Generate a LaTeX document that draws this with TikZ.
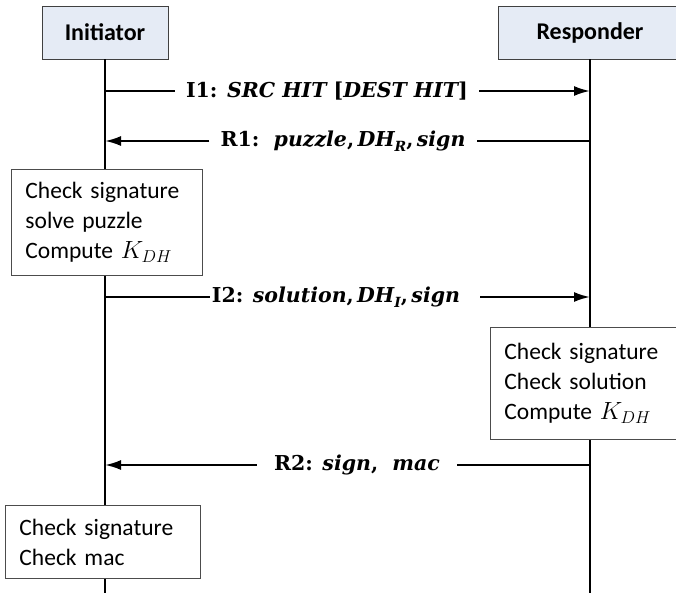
\documentclass[tikz,border=0pt]{standalone}
\usepackage{fontspec}
\setmainfont{Carlito}
\newfontfamily\labfont{DejaVu Serif}
\usetikzlibrary{arrows.meta}
\definecolor{headfill}{HTML}{E5EBF5}
\newcommand\labsub[1]{\raisebox{-0.45ex}{\fontsize{14}{14}\selectfont #1}}
\begin{document}
\begin{tikzpicture}[x=1pt,y=-1pt,
  head/.style={draw=black!75, fill=headfill, line width=0.9pt, minimum height=53pt, inner sep=0pt,
    font=\fontsize{24}{28}\selectfont\bfseries},
  life/.style={line width=2pt},
  note/.style={draw=black!70, fill=white, line width=0.9pt, align=left, anchor=north west,
    inner ysep=0pt, font=\fontsize{23.5}{30}\selectfont},
  msg/.style={line width=2pt},
  arr/.style={msg, -{Latex[length=16pt,width=10pt]}},
  lab/.style={font=\labfont\fontsize{20.5}{24}\selectfont\bfseries, inner ysep=0pt, inner xsep=11pt},
]
\useasboundingbox (0,0) rectangle (676,593);
\clip (0,0) rectangle (676,593);

% headers
\node[head, minimum width=126pt] (ini) at (105,32.5) {Initiator};
\node[head, minimum width=184pt] (res) at (590,32.5) {Responder};

\coordinate (bot) at (0,600);
\draw[life] (ini.south) -- (ini.south |- bot);
\draw[life] (res.south) -- (res.south |- bot);

% message I1
\coordinate (i1a) at (105,91);
\coordinate (i1b) at (590,91);
\node[lab] (l1) at (327,91) {I1: \itshape SRC HIT {\upshape[}DEST HIT{\upshape]}};
\draw[msg] (i1a) -- (l1.west);
\draw[arr] (l1.east) -- (i1b);

% message R1
\coordinate (r1a) at (590,141);
\coordinate (r1b) at (105,141);
\node[lab] (l2) at (343,141) {R1:\ \ \itshape puzzle{\upshape,}\,DH\labsub{R}{\upshape,}\,sign};
\draw[msg] (r1a) -- (l2.east);
\draw[arr] (l2.west) -- (r1b);

% box 1
\node[note, minimum width=191pt, minimum height=106pt, text width=163pt, inner xsep=14pt] (b1) at (11,169)
  {Check signature\\solve puzzle\\Compute $K_{DH}$};

% message I2
\coordinate (i2a) at (105,297);
\coordinate (i2b) at (590,297);
\node[lab, inner xsep=2pt] (l3) at (336,297) {I2: \itshape solution{\upshape,}\,DH\labsub{I}{\upshape,}\,sign};
\draw[msg] (i2a) -- (l3.west);
\draw[arr] ([xshift=18pt]l3.east) -- (i2b);

% box 2
\node[note, minimum width=200pt, minimum height=112pt, text width=172pt, inner xsep=14pt] (b2) at (490,327)
  {Check signature\\Check solution\\Compute $K_{DH}$};

% message R2
\coordinate (r2a) at (590,465);
\coordinate (r2b) at (105,465);
\node[lab, inner xsep=17pt] (l4) at (357,465) {R2: \itshape sign{\upshape,}\ \ mac};
\draw[msg] (r2a) -- (l4.east);
\draw[arr] (l4.west) -- (r2b);

% box 3
\node[note, minimum width=195pt, minimum height=73pt, text width=167pt, inner xsep=14pt] (b3) at (5,505)
  {Check signature\\Check mac};
\end{tikzpicture}
\end{document}
